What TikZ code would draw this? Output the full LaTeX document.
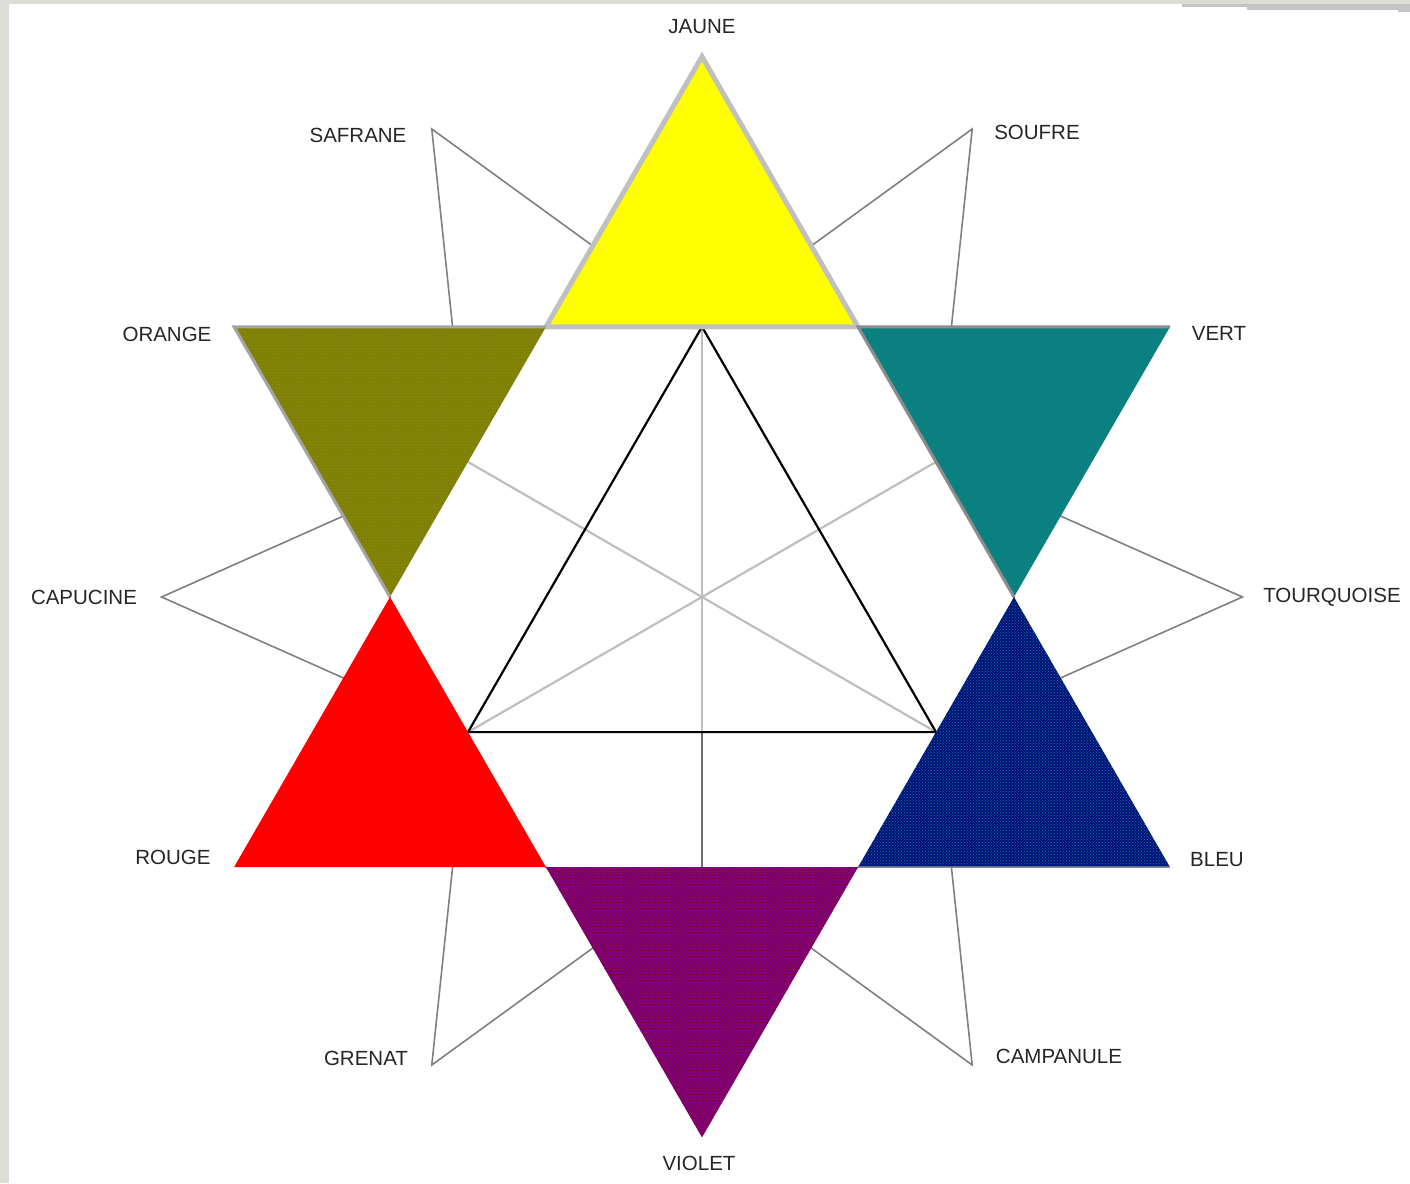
\documentclass[tikz,border=0pt]{standalone}
\usepackage{fontspec}
\setmainfont{Liberation Sans}
\usetikzlibrary{patterns}
\definecolor{framegray}{HTML}{DDDDD8}
\definecolor{shadowgray}{HTML}{C4C4C4}
\definecolor{cyellow}{HTML}{FFFF00}
\definecolor{cyelbord}{HTML}{C0C0C0}
\definecolor{colive}{HTML}{808000}
\definecolor{coliveb}{HTML}{A4A4A4}
\definecolor{cteal}{HTML}{0A8080}
\definecolor{ctealb}{HTML}{8C8C8C}
\definecolor{cred}{HTML}{FF0000}
\definecolor{cnavy}{HTML}{00107E}
\definecolor{cpurple}{HTML}{800080}
\definecolor{cmaroon}{HTML}{800000}
\definecolor{wline}{HTML}{808080}
\definecolor{lgray}{HTML}{BEBEBE}
\definecolor{dgray}{HTML}{6E6E6E}
\definecolor{labcol}{HTML}{262626}
\tikzset{
  whitetri/.style={draw=wline, fill=white, line width=1.6pt, line join=miter},
  colortri/.style={line join=miter},
  guideline/.style={draw=lgray, line width=2.2pt},
  blackline/.style={draw=black, line width=2.2pt, line join=miter},
  lab/.style={text=labcol, font=\fontsize{20.5}{21}\selectfont, inner sep=0pt}
}
\begin{document}
\begin{tikzpicture}[x=1pt,y=1pt]
\useasboundingbox (-702,-586) rectangle (708,597);
\fill[white] (-702,-586) rectangle (708,597);
\fill[framegray] (-702,-586) rectangle (-693,597);
\fill[framegray] (-702,597) rectangle (708,593);
\fill[shadowgray] (480,593) rectangle (708,590);
\fill[shadowgray] (545,593) rectangle (708,587);
\fill[shadowgray] (696,593) rectangle (708,585);

\def\R{312}
\def\A{270.2}
\def\S{540.4}
\foreach \k in {0,...,5}{
  \coordinate (H\k) at (60*\k:\R);
  \coordinate (W\k) at (60*\k:\S);
  \coordinate (S\k) at (30+60*\k:\S);
  \coordinate (M\k) at (30+60*\k:\A);
  \coordinate (P\k) at (60*\k+18.05:328.2);
  \coordinate (Q\k) at (60*\k-18.05:328.2);
}
\coordinate (Bm) at (270:135.1);

% white secondary triangles
\foreach \k in {0,...,5}{
  \draw[whitetri] (W\k) -- (P\k) -- (Q\k) -- cycle;
}

% interior guide lines
\draw[guideline] (M3) -- (M0);
\draw[guideline] (M5) -- (M2);
\draw[guideline] (M1) -- (Bm);
\draw[draw=dgray, line width=2.2pt] (Bm) -- (M4);
\draw[blackline] (M1) -- (M3) -- (M5) -- cycle;

% yellow
\filldraw[colortri, fill=cyellow, draw=cyelbord, line width=5pt] (S1) -- (H1) -- (H2) -- cycle;
% orange (olive)
\fill[colortri, colive] (S2) -- (H2) -- (H3) -- cycle;
\fill[colortri, pattern=dots, pattern color=coliveb!70!colive] (S2) -- (H2) -- (H3) -- cycle;
\draw[colortri, coliveb, line width=3pt] (H3) -- (S2) -- (H2);
% red
\fill[colortri, cred] (S3) -- (H3) -- (H4) -- cycle;
% violet
\fill[colortri, cpurple] (S4) -- (H4) -- (H5) -- cycle;
\fill[colortri, pattern=crosshatch dots, pattern color=cmaroon] (S4) -- (H4) -- (H5) -- cycle;
% blue
\fill[colortri, cnavy] (S5) -- (H5) -- (H0) -- cycle;
\fill[colortri, pattern=crosshatch dots, pattern color=cteal] (S5) -- (H5) -- (H0) -- cycle;
\draw[colortri, ctealb, line width=1.5pt] (H5) -- (S5);
% vert (teal)
\fill[colortri, cteal] (S0) -- (H0) -- (H1) -- cycle;
\draw[colortri, ctealb, line width=3pt] (H0) -- (H1) -- (S0);

% labels
\node[lab] (jaune) at (0,570) {JAUNE};
\node[lab] (safrane) at (-344,462) {SAFRANE};
\node[lab] (soufre) at (335,465) {SOUFRE};
\node[lab] (orange) at (-535,263) {ORANGE};
\node[lab] (vert) at (517,264) {VERT};
\node[lab] (capucine) at (-618,0) {CAPUCINE};
\node[lab] (tourquoise) at (630,0) {TOURQUOISE};
\node[lab] (rouge) at (-529,-260) {ROUGE};
\node[lab] (bleu) at (515,-263) {BLEU};
\node[lab] (grenat) at (-336,-461) {GRENAT};
\node[lab] (campanule) at (357,-459) {CAMPANULE};
\node[lab] (violet) at (-3,-566) {VIOLET};
\end{tikzpicture}
\end{document}
